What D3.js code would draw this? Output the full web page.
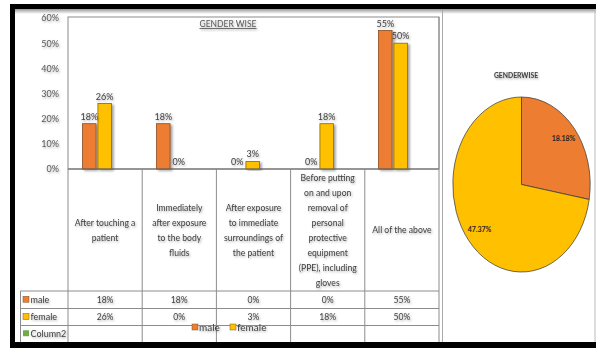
<!DOCTYPE html>
<html><head><meta charset="utf-8">
<script src="https://cdn.jsdelivr.net/npm/d3@7"></script>
<style>
html,body{margin:0;padding:0;background:#fff;}
svg{display:block;}
text{font-family:Lato,"Liberation Sans",sans-serif;}
</style></head>
<body>
<svg id="c" width="596" height="348"></svg>
<script>
// ---- data ----
const categories = ["After touching a patient","Immediately after exposure to the body fluids","After exposure to immediate surroundings of the patient","Before putting on and upon removal of personal protective equipment (PPE), including gloves","All of the above"];
const categoryLines = [
  ["After touching a","patient"],
  ["Immediately","after exposure","to the body","fluids"],
  ["After exposure","to immediate","surroundings of","the patient"],
  ["Before putting","on and upon","removal of","personal","protective","equipment","(PPE), including","gloves"],
  ["All of the above"]
];
const seriesNames = ["male","female"];
const maleValues = [0.18,0.18,0,0,0.55];
const femaleValues = [0.26,0,0.03,0.18,0.50];
const yTicks = [0,0.1,0.2,0.3,0.4,0.5,0.6];
const pieLabels = ["male","female"];
const pieValues = [18.18,47.37];
const colors = {male:"#ED7D31", female:"#FFC000", Column2:"#70AD47"};

const svg = d3.select("#c");
const defs = svg.append("defs");
const ts = defs.append("filter").attr("id","ts").attr("x","-20%").attr("y","-40%").attr("width","150%").attr("height","200%");
ts.append("feDropShadow").attr("dx",1).attr("dy",1.2).attr("stdDeviation",0.9).attr("flood-color","#000").attr("flood-opacity",0.35);
const bs = defs.append("filter").attr("id","bs").attr("x","-30%").attr("y","-10%").attr("width","170%").attr("height","130%");
bs.append("feDropShadow").attr("dx",2).attr("dy",1.5).attr("stdDeviation",1.2).attr("flood-color","#000").attr("flood-opacity",0.35);

// ---- outer frame ----
svg.append("rect").attr("x",0).attr("y",0).attr("width",596).attr("height",348).attr("fill","#fff");
// gray shadow under top border
const sg = defs.append("linearGradient").attr("id","sg").attr("x1",0).attr("y1",0).attr("x2",0).attr("y2",1);
sg.append("stop").attr("offset",0).attr("stop-color","#999");
sg.append("stop").attr("offset",1).attr("stop-color","#fff");
svg.append("rect").attr("x",15).attr("y",9).attr("width",581).attr("height",5).attr("fill","url(#sg)");

// ---- scales ----
const yScale = d3.scaleLinear().domain([0,0.6]).range([169,18]);
const xBar = d3.scaleBand().domain(categories).range([60,430]).paddingInner(0.61).paddingOuter(0.305);
const xSer = d3.scaleBand().domain(seriesNames).range([0,xBar.bandwidth()]).paddingInner(0.12);
const xTab = d3.scaleBand().domain(categories).range([68,439]);

const grid = "#8c8c8c";
// plot frame
svg.append("rect").attr("x",68).attr("y",17).attr("width",371).attr("height",152).attr("fill","none").attr("stroke",grid).attr("stroke-width",1);

// title
svg.append("text").attr("x",228).attr("y",27).attr("text-anchor","middle").attr("font-size",8.5)
  .attr("fill","#595959").attr("text-decoration","underline").attr("filter","url(#ts)").text("GENDER WISE");

// y axis labels
const yAxis = d3.axisLeft(yScale).tickValues(yTicks).tickFormat(d3.format(".0%")).tickSize(0).tickPadding(0);
const ya = svg.append("g").attr("transform","translate(59,0)").call(yAxis);
ya.select(".domain").remove();
ya.selectAll("text").attr("font-size",9).attr("fill","#595959").attr("font-family","Lato,sans-serif").attr("filter","url(#ts)");

// bars
const rows = categories.map((c,i)=>({cat:c, male:maleValues[i], female:femaleValues[i]}));
const groups = svg.append("g").selectAll("g").data(rows).join("g").attr("transform",d=>`translate(${xBar(d.cat)},0)`);
groups.selectAll("rect").data(d=>seriesNames.map(s=>({s, v:d[s]}))).join("rect")
  .filter(d=>d.v>0)
  .attr("x",d=>xSer(d.s)).attr("width",xSer.bandwidth())
  .attr("y",d=>yScale(d.v)).attr("height",d=>yScale(0)-yScale(d.v))
  .attr("fill",d=>colors[d.s]).attr("stroke",d=>d.s==="male"?"#8a4a1d":"#8a6a00").attr("stroke-width",0.8)
  .attr("filter","url(#bs)");
groups.selectAll("text").data(d=>seriesNames.map(s=>({s, v:d[s]}))).join("text")
  .attr("x",d=>xSer(d.s)+xSer.bandwidth()/2).attr("y",d=>yScale(d.v)-4)
  .attr("text-anchor","middle").attr("font-size",9).attr("fill","#404040").attr("filter","url(#ts)")
  .text(d=>d3.format(".0%")(d.v));

// axis line
svg.append("line").attr("x1",68).attr("x2",439).attr("y1",169).attr("y2",169).attr("stroke","#666");

// ---- data table ----
const rowY = [291,308.5,325.5,342];
// horizontal lines
rowY.slice(0,3).forEach(y=>svg.append("line").attr("x1",20.5).attr("x2",439).attr("y1",y).attr("y2",y).attr("stroke",grid));
// vertical lines
svg.append("line").attr("x1",20.5).attr("x2",20.5).attr("y1",291).attr("y2",342).attr("stroke",grid);
categories.forEach(c=>{
  svg.append("line").attr("x1",xTab(c)).attr("x2",xTab(c)).attr("y1",169).attr("y2",342).attr("stroke",grid);
});
svg.append("line").attr("x1",439).attr("x2",439).attr("y1",17).attr("y2",342).attr("stroke",grid);
svg.append("line").attr("x1",442.5).attr("x2",442.5).attr("y1",10).attr("y2",342).attr("stroke","#aaa");

// category labels
const lh = 15;
categoryLines.forEach((lines,i)=>{
  const cx = xTab(categories[i]) + xTab.bandwidth()/2;
  const y0 = 233 - (lines.length-1)*lh/2;
  const t = svg.append("text").attr("text-anchor","middle").attr("font-size",8.6).attr("fill","#404040").attr("filter","url(#ts)");
  lines.forEach((ln,j)=>t.append("tspan").attr("x",cx).attr("y",y0+j*lh).text(ln));
});

// row headers and values
const tableRows = [{name:"male", vals:maleValues},{name:"female", vals:femaleValues},{name:"Column2", vals:null}];
tableRows.forEach((r,i)=>{
  const yc = (rowY[i]+rowY[i+1])/2;
  svg.append("rect").attr("x",23).attr("y",yc-3.5).attr("width",6).attr("height",6)
    .attr("fill",colors[r.name]).attr("stroke",r.name==="Column2"?"none":"#7a5a2a").attr("stroke-width",0.5);
  svg.append("text").attr("x",30.5).attr("y",yc+3).attr("font-size",9).attr("fill","#404040").attr("filter","url(#ts)").text(r.name);
  if(r.vals){
    r.vals.forEach((v,j)=>{
      svg.append("text").attr("x",xTab(categories[j])+xTab.bandwidth()/2).attr("y",yc+3)
        .attr("text-anchor","middle").attr("font-size",8.6).attr("fill","#404040").attr("filter","url(#ts)")
        .text(d3.format(".0%")(v));
    });
  }
});

// overlapping legend
const legX = [192,230];
seriesNames.forEach((s,i)=>{
  svg.append("rect").attr("x",legX[i]).attr("y",324).attr("width",6).attr("height",6)
    .attr("fill",colors[s]).attr("stroke","#7a5a2a").attr("stroke-width",0.5);
  svg.append("text").attr("x",legX[i]+7).attr("y",331).attr("font-size",10).attr("fill","#404040").attr("filter","url(#ts)").text(s);
});

// ---- pie ----
svg.append("text").attr("x",516).attr("y",77.5).attr("text-anchor","middle").attr("font-size",6.8).attr("font-weight","bold")
  .attr("fill","#404040").attr("filter","url(#ts)").text("GENDERWISE");
const rx = 68.7, ry = 87.5;
const pg = svg.append("g").attr("transform",`translate(521.5,184.5) scale(1,${ry/rx})`);
const pie = d3.pie().sort(null).value(d=>d.v);
const arc = d3.arc().innerRadius(0).outerRadius(rx);
const labelArc = d3.arc().innerRadius(rx*0.8).outerRadius(rx*0.8);
const pdata = pie(pieLabels.map((l,i)=>({l, v:pieValues[i]})));
pg.selectAll("path").data(pdata).join("path").attr("d",arc)
  .attr("fill",d=>colors[d.data.l]).attr("stroke","#333").attr("stroke-width",0.7).attr("vector-effect","non-scaling-stroke");
svg.selectAll(".pl").data(pdata).join("text").attr("class","pl")
  .attr("x",d=>521.5+labelArc.centroid(d)[0]).attr("y",d=>184.5+labelArc.centroid(d)[1]*ry/rx+2)
  .attr("text-anchor","middle").attr("font-size",7).attr("font-weight","bold").attr("fill","#262626")
  .text(d=>d3.format(".2f")(d.data.v)+"%");

// black frame
svg.append("rect").attr("x",10).attr("y",4).attr("width",590).attr("height",5).attr("fill","#000");
svg.append("rect").attr("x",10).attr("y",4).attr("width",5).attr("height",344).attr("fill","#000");
svg.append("rect").attr("x",10).attr("y",342).attr("width",590).attr("height",6).attr("fill","#000");
svg.append("line").attr("x1",595).attr("x2",595).attr("y1",9).attr("y2",342).attr("stroke","#bbb");
</script>
</body></html>
